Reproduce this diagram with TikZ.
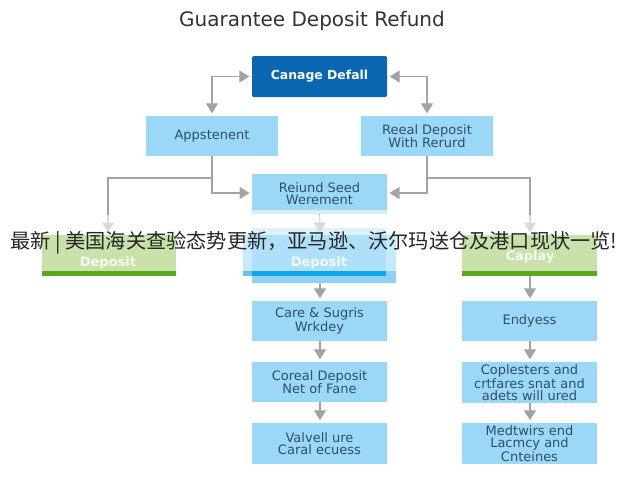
\documentclass[tikz,border=0pt]{standalone}
\usepackage{fontspec}
\setmainfont{DejaVu Sans}
\newfontfamily\cjk{Noto Sans CJK SC}
\usetikzlibrary{arrows.meta}
\definecolor{boxblue}{HTML}{9BD8F8}
\definecolor{darkblue}{HTML}{0B67B2}
\definecolor{txtblue}{HTML}{2F4F68}
\definecolor{lnk}{HTML}{A3A3A3}
\definecolor{greenbox}{HTML}{C8E2AA}
\definecolor{greenbar}{HTML}{5AA81E}
\definecolor{midlight}{HTML}{C6EAFC}
\definecolor{midcore}{HTML}{AEE0FA}
\definecolor{midlow}{HTML}{8FD0F5}
\definecolor{midstrip}{HTML}{0EA5E9}
\definecolor{midside}{HTML}{6CC0EE}
\tikzset{
 x=1pt,y=-1pt,
 bx/.style={fill=boxblue,draw=none,minimum width=#1,text=txtblue,font=\fontsize{13}{12}\selectfont,align=center,inner sep=0pt},
 conn/.style={draw=lnk,line width=1.3pt,shorten >=2.5pt,-{Triangle[length=10pt,width=12pt,fill=lnk]}},
 both/.style={draw=lnk,line width=1.3pt,shorten >=2.5pt,shorten <=2.5pt,{Triangle[length=10pt,width=12pt,fill=lnk]}-{Triangle[length=10pt,width=12pt,fill=lnk]}},
 gtext/.style={text=white,text opacity=.85,font=\bfseries\fontsize{13}{15}\selectfont,inner sep=0pt,align=center},
}
\newcommand{\bxn}[6]{\node[bx=#4-#2,minimum height=#5-#3] (#1) at ({(#2+#4)/2},{(#3+#5)/2}) {#6};}
\begin{document}
\begin{tikzpicture}
\useasboundingbox (0,0) rectangle (640,480);
\fill[white] (0,0) rectangle (640,480);
\node[text=black!80,font=\fontsize{20}{22}\selectfont,inner sep=0pt] (title) at (312,21) {Guarantee Deposit Refund};
\node[fill=darkblue,rounded corners=1.5pt,minimum width=135pt,minimum height=41pt,text=white,font=\bfseries\fontsize{12.4}{13}\selectfont,inner sep=0pt] (top) at (319.5,76.5) {Canage Defall};
\bxn{app}{146}{116}{278}{156}{Appstenent}
\bxn{real}{361}{116}{493}{156}{Reeal Deposit\\With Rerurd}
\bxn{seed}{252}{174}{387}{214}{Reiund Seed\\Werement}
\fill[boxblue!40] (252,210) rectangle (387,214);
% row 3
\fill[greenbox] (42,235) rectangle (176,276);
\fill[greenbar] (42,271) rectangle (176,276);
\node[gtext] (gl) at (108,262.5) {Deposit};
\fill[midlight] (243,235) rectangle (396,271);
\fill[midcore] (252,228) rectangle (386,271);
\fill[midlow] (252,271) rectangle (396,283);
\fill[midside] (243,271) rectangle (252,276);
\fill[midstrip] (252,271) rectangle (386,276);
\node[gtext] (gm) at (319,262.5) {Deposit};
\fill[greenbox] (462,235) rectangle (597,276);
\fill[greenbar] (462,271) rectangle (597,276);
\node[gtext] (gr) at (530,257) {Caplay};
\coordinate (gltop) at (108,235);
\coordinate (gmtop) at (320,235);
\coordinate (grtop) at (530,235);
\coordinate (gmbot) at (320,283);
\coordinate (grbot) at (530,276);
\coordinate (lj) at (212,178);
\coordinate (rj) at (427,178);
\coordinate (sl) at (252,193);
\coordinate (sr) at (387,193);
\bxn{m1}{252}{301}{387}{341}{Care \& Sugris\\Wrkdey}
\bxn{m2}{252}{362}{387}{402}{Coreal Deposit\\Net of Fane}
\bxn{m3}{252}{423}{387}{464}{Valvell ure\\Caral ecuess}
\bxn{r1}{462}{301}{597}{341}{Endyess}
\bxn{r2}{462}{362}{597}{403}{Coplesters and\\crtfares snat and\\adets will ured}
\bxn{r3}{462}{423}{597}{464}{Medtwirs end\\Lacmcy and\\Cnteines}
% connectors
\draw[both] (app.north -| 212,0) |- (top.west);
\draw[both] (real.north -| 427,0) |- (top.east);
\draw[conn] (app.south -| lj) |- (sl);
\draw[conn] (real.south -| rj) |- (sr);
\draw[conn] (lj) -| (gltop);
\draw[conn] (rj) -| (grtop);
\draw[conn] (seed.south) -- (gmtop);
\draw[conn] (gmbot) -- (m1.north -| gmbot);
\draw[conn] (m1.south -| gmbot) -- (m2.north -| gmbot);
\draw[conn] (m2.south -| gmbot) -- (m3.north -| gmbot);
\draw[conn] (grbot) -- (r1.north -| grbot);
\draw[conn] (r1.south -| grbot) -- (r2.north -| grbot);
\draw[conn] (r2.south -| grbot) -- (r3.north -| grbot);
% caption band
\fill[white,opacity=.6] (0,215) rectangle (640,235);
\node[text=black!85,font=\cjk\fontsize{20.2}{22}\selectfont,inner sep=0pt] (cap) at (314,243) {最新 | 美国海关查验态势更新，亚马逊、沃尔玛送仓及港口现状一览!};
\end{tikzpicture}
\end{document}
